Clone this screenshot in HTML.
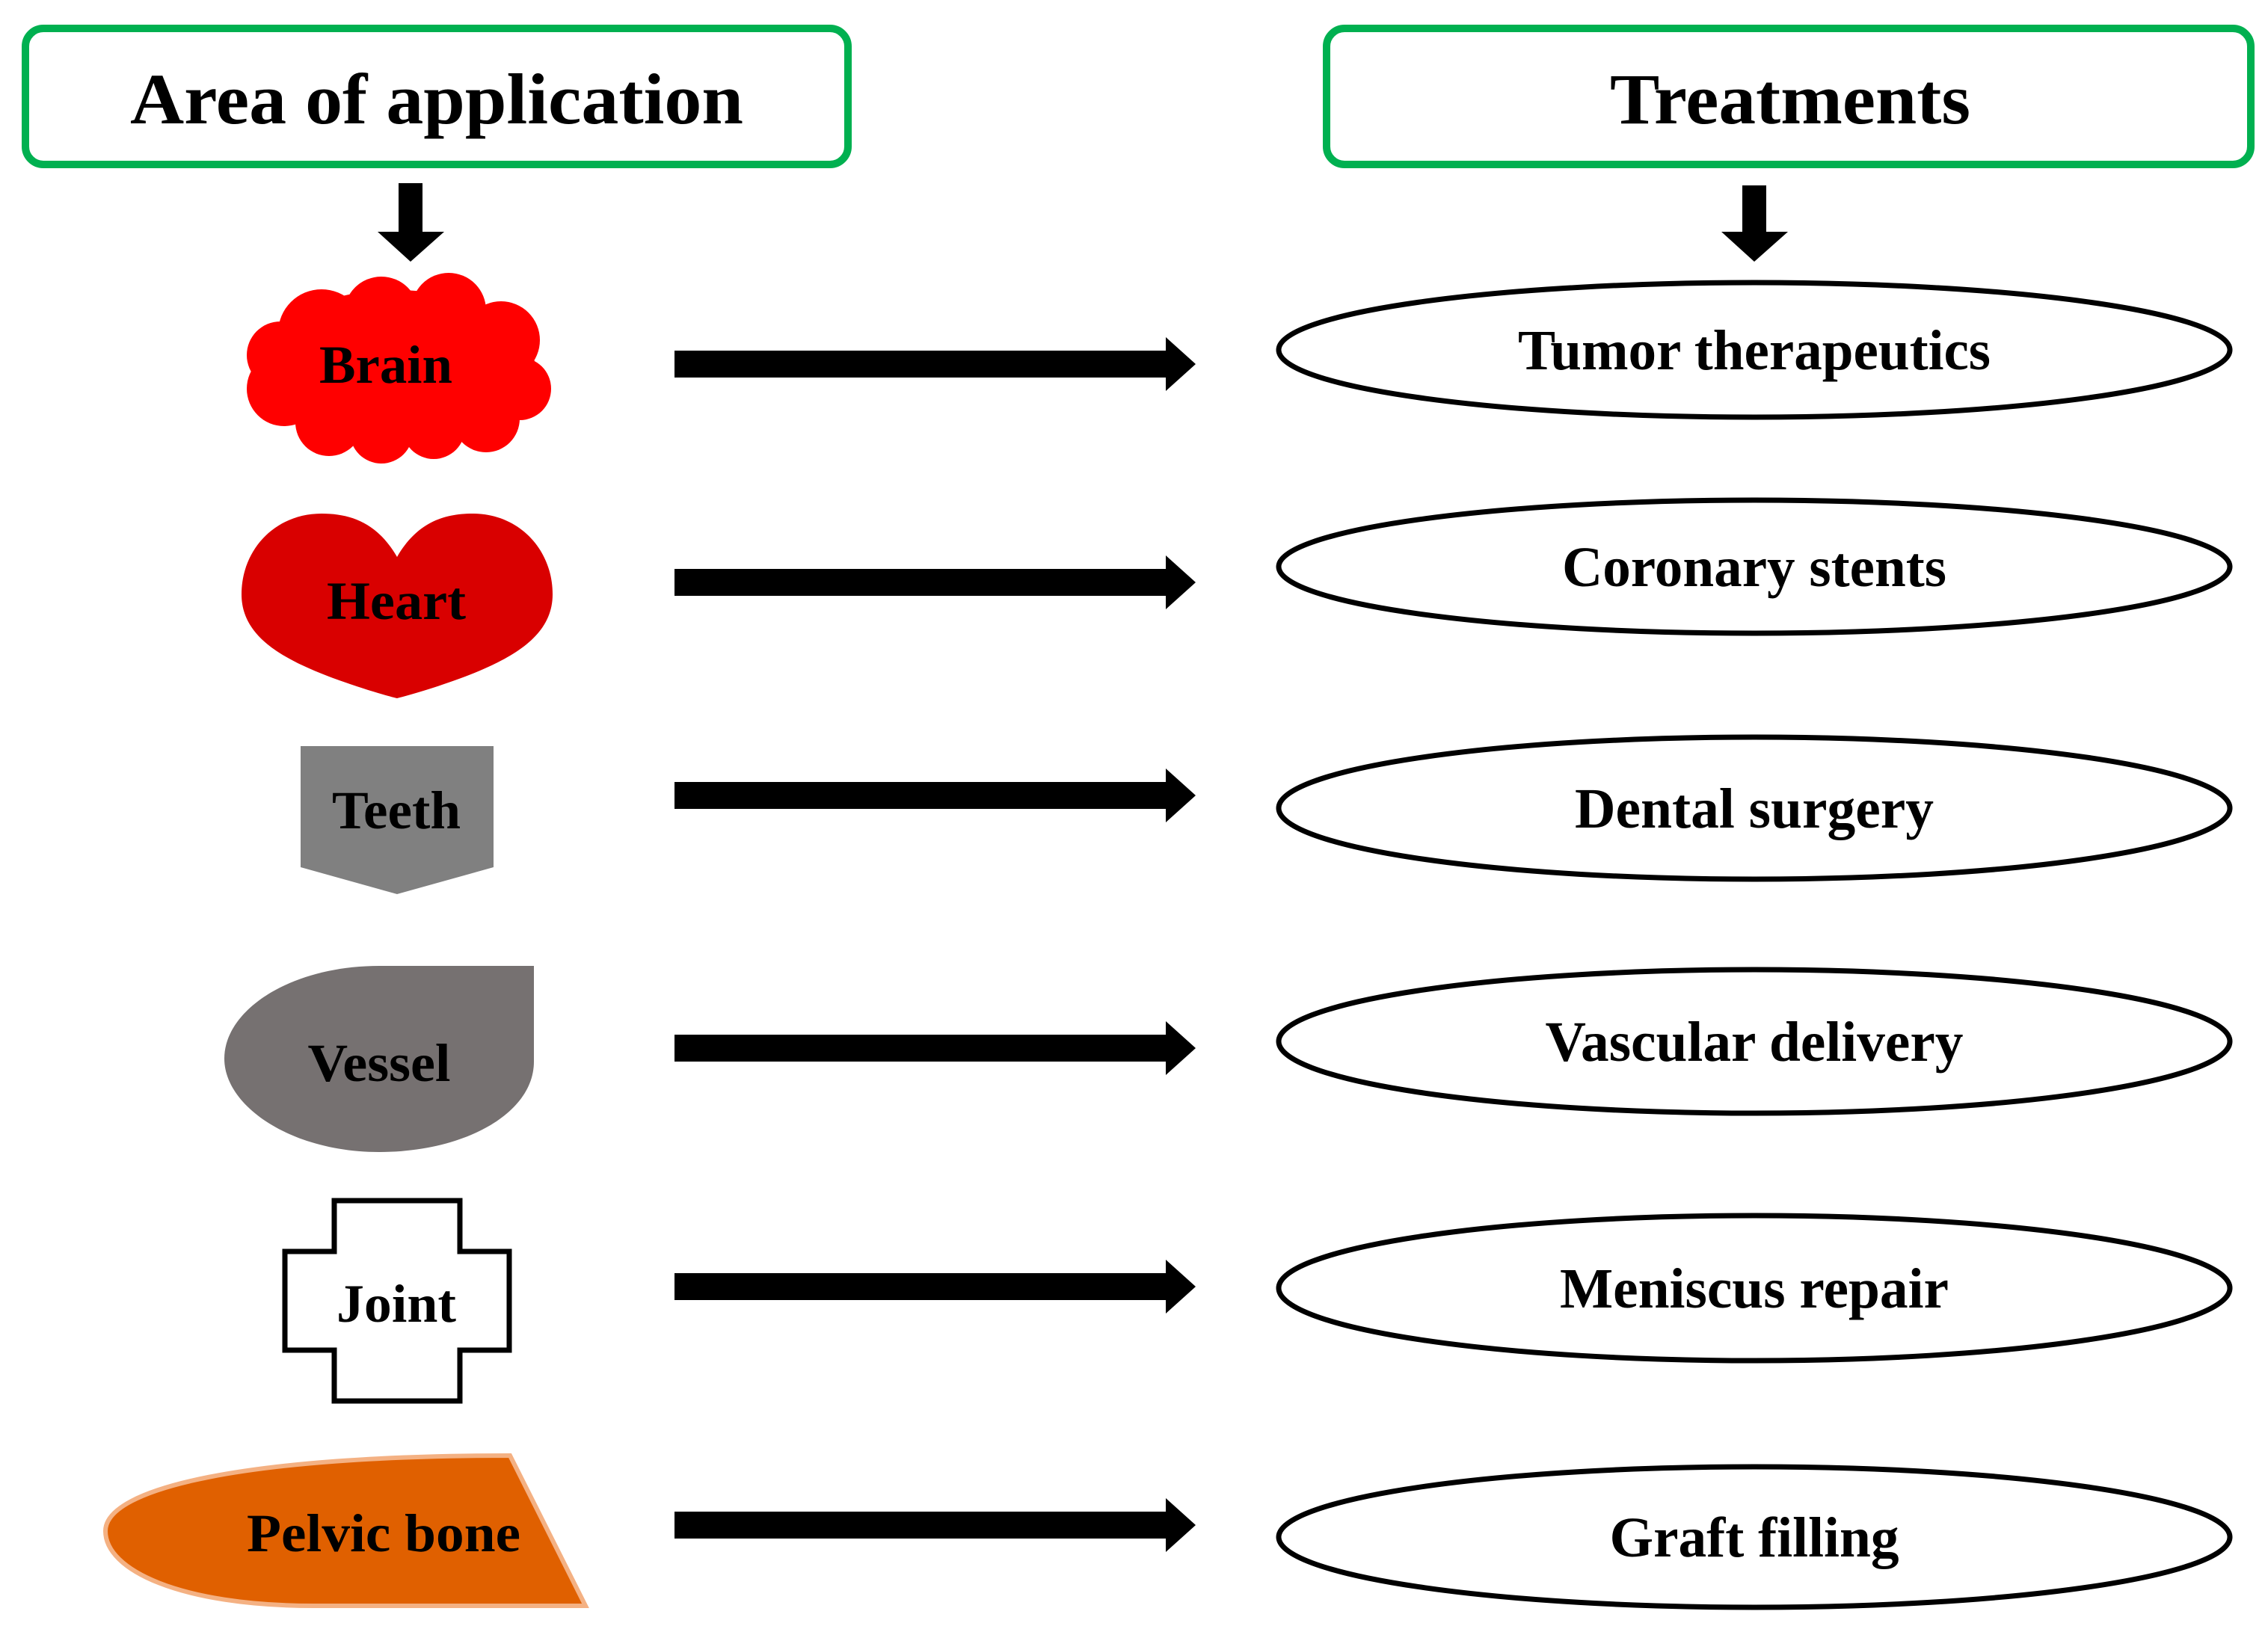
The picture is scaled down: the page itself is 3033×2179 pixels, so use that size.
<!DOCTYPE html>
<html><head><meta charset="utf-8"><style>
html,body{margin:0;padding:0;background:#fff;}
svg{display:block;}
text{font-family:"Liberation Serif",serif;font-weight:bold;fill:#000;}
</style></head><body>
<svg width="3033" height="2179" viewBox="0 0 3033 2179" xmlns="http://www.w3.org/2000/svg">
<rect x="34" y="38" width="1100" height="182" rx="24" fill="#fff" stroke="#00b050" stroke-width="10"/>
<text x="584" y="165" font-size="96" text-anchor="middle" textLength="820" lengthAdjust="spacingAndGlyphs">Area of application</text>
<rect x="1774" y="38" width="1236" height="182" rx="24" fill="#fff" stroke="#00b050" stroke-width="10"/>
<text x="2394" y="165" font-size="96" text-anchor="middle" textLength="482" lengthAdjust="spacingAndGlyphs">Treatments</text>
<polygon points="533,245 565,245 565,310 594,310 549,350 505,310 533,310" fill="#000"/>
<polygon points="2330,248 2362,248 2362,310 2391,310 2346,350 2302,310 2330,310" fill="#000"/>
<g fill="#000">
<polygon points="902,469 1559,469 1559,451 1599,487 1559,523 1559,505 902,505"/>
<polygon points="902,761 1559,761 1559,743 1599,779 1559,815 1559,797 902,797"/>
<polygon points="902,1046 1559,1046 1559,1028 1599,1064 1559,1100 1559,1082 902,1082"/>
<polygon points="902,1384 1559,1384 1559,1366 1599,1402 1559,1438 1559,1420 902,1420"/>
<polygon points="902,1703 1559,1703 1559,1685 1599,1721 1559,1757 1559,1739 902,1739"/>
<polygon points="902,2022 1559,2022 1559,2004 1599,2040 1559,2076 1559,2058 902,2058"/>
</g>
<g fill="#fff" stroke="#000" stroke-width="7">
<ellipse cx="2346" cy="468" rx="636" ry="90"/>
<ellipse cx="2346" cy="758" rx="636" ry="89"/>
<ellipse cx="2346" cy="1081" rx="636" ry="95"/>
<ellipse cx="2346" cy="1393" rx="636" ry="96"/>
<ellipse cx="2346" cy="1723" rx="636" ry="97"/>
<ellipse cx="2346" cy="2056" rx="636" ry="94"/>
</g>
<g font-size="76" text-anchor="middle">
<text x="2346" y="494" textLength="632" lengthAdjust="spacingAndGlyphs">Tumor therapeutics</text>
<text x="2346" y="784" textLength="514" lengthAdjust="spacingAndGlyphs">Coronary stents</text>
<text x="2346" y="1107" textLength="480" lengthAdjust="spacingAndGlyphs">Dental surgery</text>
<text x="2346" y="1419" textLength="559" lengthAdjust="spacingAndGlyphs">Vascular delivery</text>
<text x="2346" y="1749" textLength="520" lengthAdjust="spacingAndGlyphs">Meniscus repair</text>
<text x="2346" y="2082" textLength="387" lengthAdjust="spacingAndGlyphs">Graft filling</text>
</g>
<g fill="#ff0000">
<ellipse cx="530" cy="488" rx="185" ry="100"/>
<circle cx="430" cy="445" r="58"/>
<circle cx="510" cy="420" r="50"/>
<circle cx="600" cy="415" r="50"/>
<circle cx="670" cy="455" r="52"/>
<circle cx="695" cy="520" r="42"/>
<circle cx="650" cy="560" r="45"/>
<circle cx="580" cy="572" r="42"/>
<circle cx="510" cy="578" r="42"/>
<circle cx="440" cy="565" r="45"/>
<circle cx="380" cy="520" r="50"/>
<circle cx="375" cy="475" r="45"/>
</g>
<path d="M531,745 C505,700 470,687 430,687 C368,687 323,735 323,795 C323,850 375,880 440,905 C480,920 515,930 531,934 C547,930 582,920 622,905 C687,880 739,850 739,795 C739,735 694,687 632,687 C592,687 557,700 531,745Z" fill="#d90000"/>
<polygon points="402,998 660,998 660,1160 531,1196 402,1160" fill="#808080"/>
<path d="M507,1292 L714,1292 L714,1420 C714,1490 620,1541 507,1541 C390,1541 300,1480 300,1416 C300,1350 390,1292 507,1292 Z" fill="#767171"/>
<polygon points="447,1606 615,1606 615,1674 681,1674 681,1806 615,1806 615,1874 447,1874 447,1806 381,1806 381,1674 447,1674" fill="#fff" stroke="#000" stroke-width="7"/>
<path d="M682,1947 L783,2148 L420,2148 C240,2148 141,2100 141,2048 C141,1990 330,1947 682,1947 Z" fill="#e06000" stroke="#f4b183" stroke-width="6"/>
<g font-size="72" text-anchor="middle">
<text x="516" y="512" textLength="178" lengthAdjust="spacingAndGlyphs">Brain</text>
<text x="530" y="828" textLength="186" lengthAdjust="spacingAndGlyphs">Heart</text>
<text x="530" y="1108" textLength="172" lengthAdjust="spacingAndGlyphs">Teeth</text>
<text x="507" y="1446" textLength="191" lengthAdjust="spacingAndGlyphs">Vessel</text>
<text x="530" y="1768" textLength="160" lengthAdjust="spacingAndGlyphs">Joint</text>
<text x="513" y="2075" textLength="366" lengthAdjust="spacingAndGlyphs">Pelvic bone</text>
</g>
</svg>
</body></html>
